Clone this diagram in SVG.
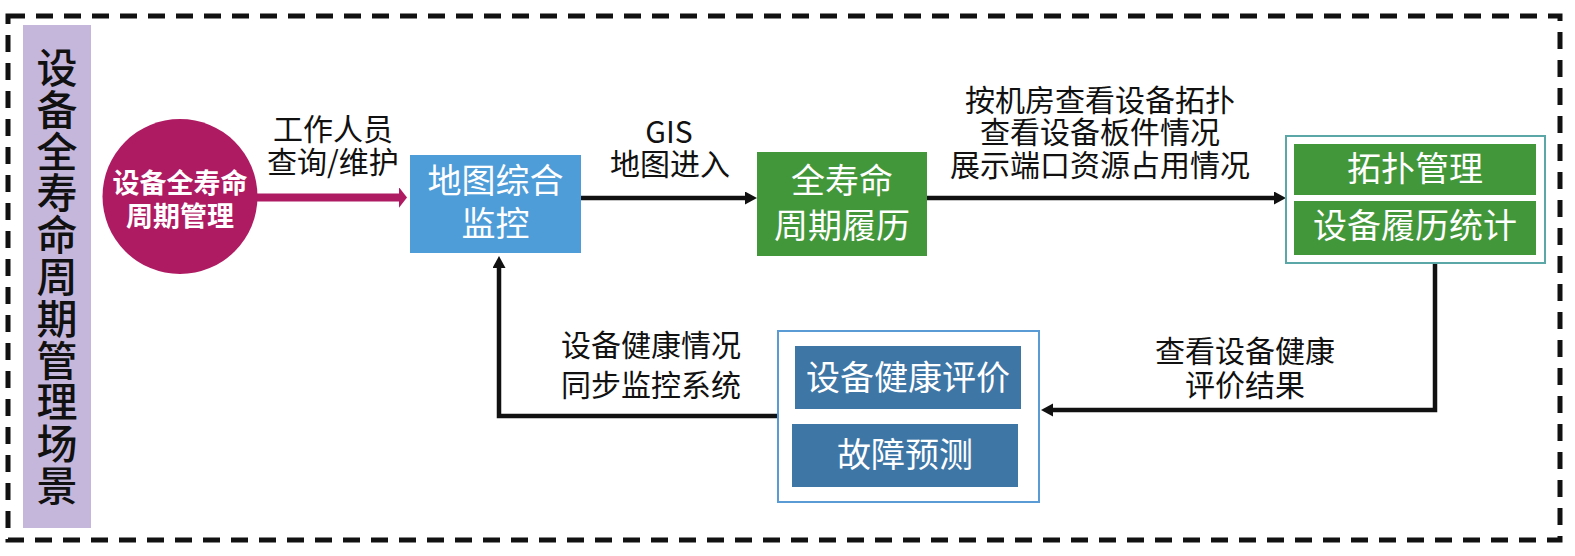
<svg xmlns="http://www.w3.org/2000/svg" width="1575" height="556" viewBox="0 0 1575 556">
<defs>
<style>
text{font-family:"Noto Sans CJK SC","Liberation Sans",sans-serif;}
.lbl{font-size:30px;fill:#111;text-anchor:middle;}
.bx{font-size:34px;fill:#fff;text-anchor:middle;}
.vt{font-size:41px;fill:#111;font-weight:500;letter-spacing:0.8px;}
.ct{font-size:27px;fill:#fff;text-anchor:middle;font-weight:bold;}
.conn{fill:none;stroke:#111;stroke-width:4.5;}
</style>
<marker id="ah" markerUnits="userSpaceOnUse" markerWidth="14" markerHeight="14" refX="4" refY="6.5" orient="auto">
<path d="M0,0 L12,6.5 L0,13 z" fill="#111"/>
</marker>
<marker id="ahm" markerUnits="userSpaceOnUse" markerWidth="10" markerHeight="24" refX="0.5" refY="11" orient="auto">
<path d="M0,0 L8.5,11 L0,22 z" fill="#AE1B62"/>
</marker>
</defs>
<rect width="1575" height="556" fill="#fff"/>
<rect x="8" y="16" width="1552" height="524" fill="none" stroke="#111" stroke-width="5" stroke-dasharray="17 11"/>
<g id="title">
<rect x="23" y="25" width="68" height="503" fill="#C5B6DC"/>
<text class="vt" x="57" y="47" writing-mode="vertical-rl">设备全寿命周期管理场景</text>
</g>
<g id="connectors">
<path d="M257,197.5 H399" fill="none" stroke="#AE1B62" stroke-width="8" marker-end="url(#ahm)"/>
<path class="conn" d="M581,198 H749" marker-end="url(#ah)"/>
<path class="conn" d="M927,198 H1278" marker-end="url(#ah)"/>
<path class="conn" d="M1435,255 V410 H1049" marker-end="url(#ah)"/>
<path class="conn" d="M778,416 H499 V264" marker-end="url(#ah)"/>
<text class="lbl"><tspan x="333" y="140">工作人员</tspan><tspan x="333" y="173">查询/维护</tspan></text>
<text class="lbl"><tspan x="669" y="143">GIS</tspan><tspan x="670" y="175">地图进入</tspan></text>
<text class="lbl"><tspan x="1100" y="111">按机房查看设备拓扑</tspan><tspan x="1100" y="143">查看设备板件情况</tspan><tspan x="1100" y="176">展示端口资源占用情况</tspan></text>
<text class="lbl"><tspan x="1245" y="362">查看设备健康</tspan><tspan x="1245" y="396">评价结果</tspan></text>
<text class="lbl"><tspan x="651" y="356">设备健康情况</tspan><tspan x="651" y="396">同步监控系统</tspan></text>
</g>
<g id="start">
<circle cx="180" cy="196.5" r="77.5" fill="#AE1B62"/>
<text class="ct"><tspan x="180" y="193">设备全寿命</tspan><tspan x="180" y="226">周期管理</tspan></text>
</g>
<g id="map">
<rect x="410" y="155" width="171" height="98" fill="#4F9DD8"/>
<text class="bx"><tspan x="495.5" y="193">地图综合</tspan><tspan x="495.5" y="236">监控</tspan></text>
</g>
<g id="history">
<rect x="757" y="152" width="170" height="104" fill="#43973B"/>
<text class="bx"><tspan x="842" y="193">全寿命</tspan><tspan x="842" y="238">周期履历</tspan></text>
</g>
<g id="topo">
<rect x="1286" y="136" width="259" height="127" fill="#fff" stroke="#5BA6A6" stroke-width="2"/>
<rect x="1294" y="144" width="242" height="51" fill="#43973B"/>
<rect x="1294" y="201" width="242" height="54" fill="#43973B"/>
<text class="bx" x="1415" y="181">拓扑管理</text>
<text class="bx" x="1415" y="238">设备履历统计</text>
</g>
<g id="health">
<rect x="778" y="331" width="261" height="171" fill="#fff" stroke="#5B9BD5" stroke-width="2"/>
<rect x="795" y="346" width="226" height="63" fill="#3E76A6"/>
<rect x="792" y="424" width="226" height="63" fill="#3E76A6"/>
<text class="bx" x="908" y="390">设备健康评价</text>
<text class="bx" x="905" y="467">故障预测</text>
</g>
</svg>
